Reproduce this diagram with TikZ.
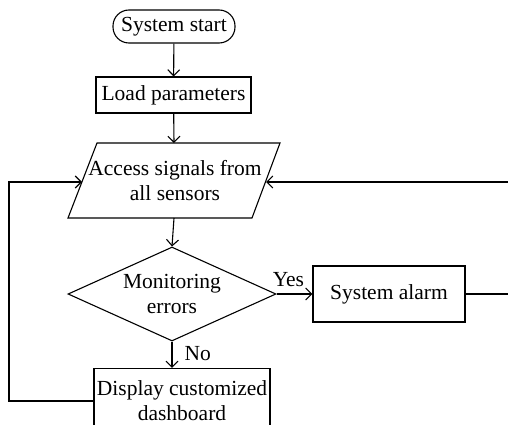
\documentclass[tikz,border=0pt]{standalone}
\usepackage{fontspec}
\setmainfont{Liberation Serif}
\usetikzlibrary{arrows.meta,shapes.geometric}
\begin{document}
\begin{tikzpicture}[x=1pt,y=-1pt,
  every node/.style={font=\fontsize{21.5}{25}\selectfont, align=center, inner sep=0pt},
  box/.style={draw, line width=1.1pt, minimum width=#1},
  arr/.style={line width=1.1pt, -{Straight Barb[length=6pt,width=12pt,line width=1.1pt]}},
  ln/.style={line width=1.1pt}]
\useasboundingbox (0,0) rectangle (508,425);
\clip (0,0) rectangle (508,425);
\node[draw, line width=1.1pt, rounded corners=16pt, minimum width=122pt, minimum height=33pt] (start) at (174,26.5) {System start};
\node[box=155pt, minimum height=36pt] (load) at (173.5,95) {Load parameters};
\node (access) at (175,181) {Access signals from\\all sensors};
\draw[ln] (68,218) -- (97,143) -- (280,143) -- (252,218) -- cycle;
\coordinate (accT) at (174,143);
\coordinate (accB) at (174,218);
\coordinate (accL) at (82,182);
\coordinate (accR) at (266,182);
\node[draw, line width=1.1pt, diamond, aspect=2.2, minimum width=208pt, minimum height=94pt] (mon) at (172,294) {Monitoring\\errors};
\node[box=152pt, minimum height=56pt] (alarm) at (389,294) {System alarm};
\node[box=176pt, minimum height=65pt] (disp) at (182,401) {Display customized\\dashboard};
\coordinate (lc) at (9,182);
\coordinate (rc) at (514,182);
\draw[arr] (start) -- (load);
\draw[arr] (load) -- (accT);
\draw[arr] (accB) -- (mon.north);
\draw[arr] (mon.east) -- node[above=7pt, pos=0.33] (yes) {Yes} (alarm.west);
\draw[arr] (mon.south) -- node[right=12pt, pos=0.45] (no) {No} (mon.south |- disp.north);
\draw[arr] (disp.west) -| (lc) -- (accL);
\draw[arr] (alarm.east) -| (rc) -- (accR);
\end{tikzpicture}
\end{document}
